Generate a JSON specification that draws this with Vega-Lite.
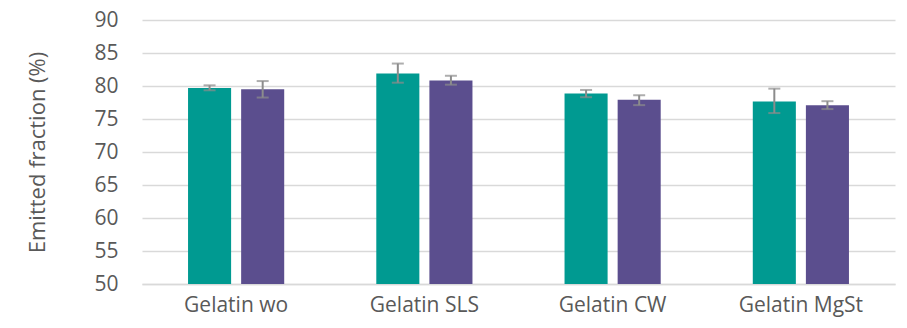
{
  "$schema": "https://vega.github.io/schema/vega-lite/v6.json",
  "autosize": {"type": "none"},
  "padding": {"left": 142, "top": 20, "right": 12, "bottom": 44},
  "width": 753,
  "height": 264,
  "background": "white",
  "data": {"values": [
    {"group": "Gelatin wo", "series": "S1", "value": 79.7, "lo": 79.35, "hi": 80.1},
    {"group": "Gelatin wo", "series": "S2", "value": 79.5, "lo": 78.25, "hi": 80.75},
    {"group": "Gelatin SLS", "series": "S1", "value": 81.9, "lo": 80.5, "hi": 83.4},
    {"group": "Gelatin SLS", "series": "S2", "value": 80.85, "lo": 80.2, "hi": 81.55},
    {"group": "Gelatin CW", "series": "S1", "value": 78.85, "lo": 78.3, "hi": 79.4},
    {"group": "Gelatin CW", "series": "S2", "value": 77.9, "lo": 77.1, "hi": 78.6},
    {"group": "Gelatin MgSt", "series": "S1", "value": 77.65, "lo": 75.9, "hi": 79.6},
    {"group": "Gelatin MgSt", "series": "S2", "value": 77.1, "lo": 76.5, "hi": 77.7}
  ]},
  "encoding": {
    "x": {
      "field": "group", "type": "nominal", "sort": null,
      "scale": {"paddingInner": 0, "paddingOuter": 0},
      "axis": {"title": null, "labelAngle": 0, "labelFont": "Open Sans", "labelFontSize": 21, "labelColor": "#595959", "labelPadding": 10, "ticks": false, "domainColor": "#d9d9d9", "domainWidth": 1.5}
    },
    "xOffset": {"field": "series", "type": "nominal", "scale": {"paddingInner": 0.189, "paddingOuter": 0.867}}
  },
  "layer": [
    {
      "mark": {"type": "bar", "clip": true},
      "encoding": {
        "y": {
          "field": "value", "type": "quantitative",
          "scale": {"domain": [50, 90], "zero": false, "nice": false},
          "title": "Emitted fraction (%)"
        },
        "color": {"field": "series", "type": "nominal", "scale": {"domain": ["S1", "S2"], "range": ["#009a91", "#5b4e8e"]}, "legend": null}
      }
    },
    {
      "mark": {"type": "rule", "color": "#8c8c8c", "strokeWidth": 2},
      "encoding": {"y": {"field": "lo", "type": "quantitative", "title": "Emitted fraction (%)"}, "y2": {"field": "hi"}}
    },
    {
      "mark": {"type": "tick", "color": "#8c8c8c", "thickness": 2, "size": 12, "orient": "horizontal"},
      "encoding": {"y": {"field": "lo", "type": "quantitative", "title": "Emitted fraction (%)"}}
    },
    {
      "mark": {"type": "tick", "color": "#8c8c8c", "thickness": 2, "size": 12, "orient": "horizontal"},
      "encoding": {"y": {"field": "hi", "type": "quantitative", "title": "Emitted fraction (%)"}}
    }
  ],
  "config": {
    "view": {"stroke": null},
    "axisY": {"titleFont": "Open Sans", "titleFontSize": 22, "titleFontWeight": "normal", "titleColor": "#595959", "titlePadding": 44, "labelFont": "Open Sans", "labelFontSize": 21, "labelColor": "#595959", "labelPadding": 24, "labelOverlap": false, "values": [50,55,60,65,70,75,80,85,90], "ticks": false, "domain": false, "grid": true, "gridColor": "#d9d9d9", "gridWidth": 1.5}
  }
}
